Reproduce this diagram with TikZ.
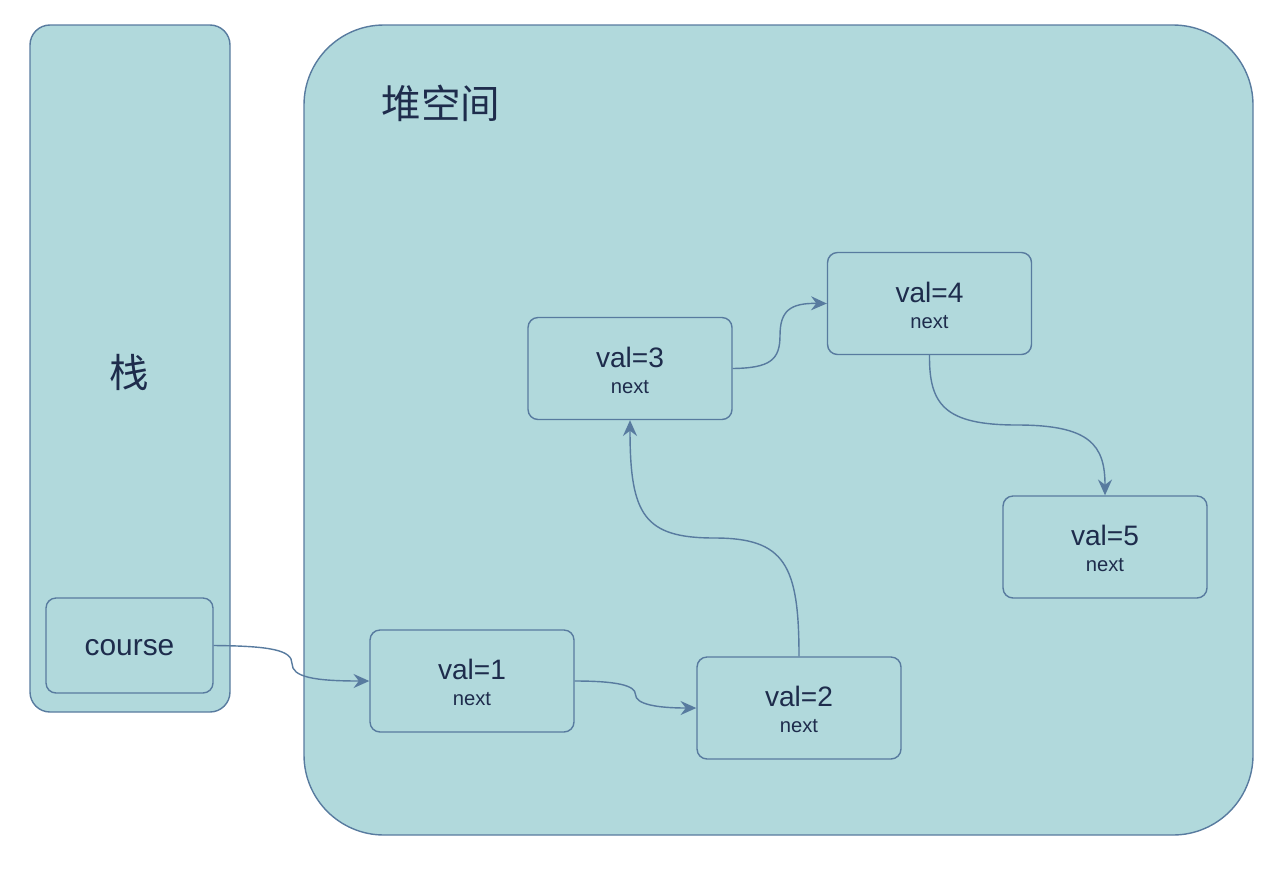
\documentclass[tikz,border=0pt]{standalone}
\usepackage{fontspec}
\setmainfont{Liberation Sans}
\newfontfamily\cjkfont{Noto Sans CJK SC}
\usepackage{tikz}
\usetikzlibrary{arrows.meta}

\definecolor{boxfill}{HTML}{B1D9DC}
\definecolor{boxline}{HTML}{587B9F}
\definecolor{inktext}{HTML}{1E2C4C}

\tikzset{
  area/.style = {draw = boxline, fill = boxfill, line width = 0.8pt},
  listnode/.style = {draw = boxline, fill = boxfill, line width = 0.8pt,
    rounded corners = 0.2cm, minimum width = 4.08cm, minimum height = 2.04cm},
  valtext/.style = {text = inktext, font = \fontsize{16}{18}\selectfont},
  nexttext/.style = {text = inktext, font = \fontsize{11.5}{13}\selectfont},
  link/.style = {draw = boxline, line width = 0.8pt,
    -{Stealth[length = 9pt, width = 8pt, inset = 3pt]}}
}

\begin{document}
\begin{tikzpicture}[x = 0.02cm, y = -0.02cm]
        \useasboundingbox (0,0) rectangle (1280,872);
        % stack and heap
        \draw[area, rounded corners = 0.4cm] (30,25) rectangle (230,712);
        \draw[area, rounded corners = 1.6cm] (304,25) rectangle (1253,835);
        \node[text = inktext, font = \cjkfont\fontsize{22.5}{26}\selectfont] (heap) at (441,103) {堆空间};
        \node[text = inktext, font = \cjkfont\fontsize{22.5}{26}\selectfont] (stack) at (129,372) {栈};

        % reference on the stack
        \node[listnode, minimum width = 3.34cm, minimum height = 1.9cm] (course) at (129.5,645.5) {};
        \node[valtext, font = \fontsize{17}{19}\selectfont] at (129.5,648) {course};

        % list nodes
        \node[listnode] (n1) at (472,681) {};
        \node[valtext] at (472,669) {val=1};
        \node[nexttext] at (472,699) {next};

        \node[listnode] (n2) at (799,708) {};
        \node[valtext] at (799,696) {val=2};
        \node[nexttext] at (799,726) {next};

        \node[listnode] (n3) at (630,368.5) {};
        \node[valtext] at (630,357) {val=3};
        \node[nexttext] at (630,387) {next};

        \node[listnode] (n4) at (929.5,303.5) {};
        \node[valtext] at (929.5,292) {val=4};
        \node[nexttext] at (929.5,322) {next};

        \node[listnode] (n5) at (1105,547) {};
        \node[valtext] at (1105,535) {val=5};
        \node[nexttext] at (1105,565) {next};

        % links
        \draw[link] (course.east) .. controls (270,646) and (292,650) .. (292,663.5)
            .. controls (292,677) and (314,681) .. (n1.west);
        \draw[link] (n1.east) .. controls (615,681) and (635.5,685) .. (635.5,694.5)
            .. controls (635.5,704) and (656,708) .. (n2.west);
        \draw[link] (n2.north) .. controls (799,565) and (785,538) .. (714.5,538)
            .. controls (644,538) and (630,515) .. (n3.south);
        \draw[link] (n3.east) .. controls (770,368) and (780,360) .. (780,335.5)
            .. controls (780,311) and (790,303) .. (n4.west);
        \draw[link] (n4.south) .. controls (929,405) and (945,425) .. (1017,425)
            .. controls (1090,425) and (1105,445) .. (n5.north);
    \end{tikzpicture}
\end{document}
